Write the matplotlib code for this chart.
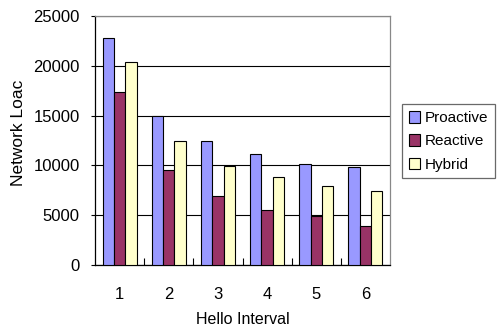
import matplotlib
matplotlib.use("Agg")
import matplotlib.pyplot as plt
import numpy as np

plt.rcParams['font.family'] = ['Liberation Sans', 'DejaVu Sans']

categories = ["1", "2", "3", "4", "5", "6"]
proactive = [22800, 15000, 12400, 11100, 10100, 9800]
reactive = [17400, 9500, 6900, 5500, 4900, 3900]
hybrid = [20400, 12400, 9950, 8800, 7900, 7400]
series_names = ["Proactive", "Reactive", "Hybrid"]
colors = ["#9999FF", "#993366", "#FFFFCC"]

fig = plt.figure(figsize=(5.0, 3.29), dpi=100)
ax = fig.add_axes([0.19, 0.1945, 0.59, 0.757])

x = np.arange(1, len(categories) + 1)
w = 0.23
for i, (vals, name, c) in enumerate(zip([proactive, reactive, hybrid], series_names, colors)):
    ax.bar(x + (i - 1) * w, vals, width=w, color=c, edgecolor="black",
           linewidth=0.8, label=name, zorder=3)

ax.set_xlim(0.5, 6.5)
ax.set_ylim(0, 25000)
ax.set_yticks(np.arange(0, 25001, 5000))
ax.set_xticks(x)
ax.set_xticklabels(categories)
ax.set_xticks(np.arange(1.5, 6.5, 1.0), minor=True)
ax.tick_params(axis="x", which="major", length=0, pad=16, labelsize=12)
ax.tick_params(axis="x", which="minor", direction="in", length=5, width=0.8)
ax.tick_params(axis="y", length=3, width=0.8, labelsize=12, pad=8)

ax.grid(axis="y", color="black", linewidth=0.8, zorder=0)
ax.spines["left"].set_color("black")
ax.spines["bottom"].set_color("black")
ax.spines["top"].set_color("#888888")
ax.spines["right"].set_color("#888888")
for s in ax.spines.values():
    s.set_linewidth(0.9)

ax.set_xlabel("Hello Interval", fontsize=11.5, va="center")
ax.set_ylabel("Network Loac", fontsize=12.5, va="center")
ax.xaxis.set_label_coords(0.5, -0.22)
ax.yaxis.set_label_coords(-0.258, 0.53)

leg = ax.legend(loc="upper left", bbox_to_anchor=(1.04, 0.645), fontsize=11,
                frameon=True, fancybox=False, edgecolor="#444444",
                handlelength=0.75, handleheight=0.75, handletextpad=0.3,
                labelspacing=0.6, borderpad=0.45, borderaxespad=0)
leg.get_frame().set_linewidth(0.9)

fig.savefig("out.png", dpi=100)
